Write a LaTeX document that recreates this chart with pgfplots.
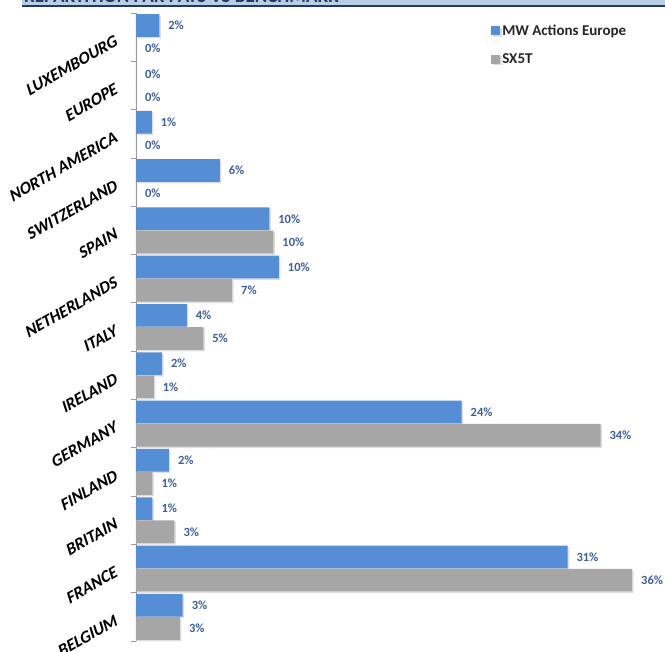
\documentclass[border=0pt]{standalone}
\usepackage{fontspec}
\setmainfont{Carlito}
\newfontfamily\catfont{Carlito}[BoldFeatures={FakeSlant=0.22}]
\usepackage{pgfplots}
\pgfplotsset{compat=1.18}
\usetikzlibrary{shadows}

\definecolor{mwblue}{RGB}{85,142,213}
\definecolor{sxgray}{RGB}{166,166,166}
\definecolor{lblblue}{RGB}{60,94,156}
\definecolor{bandblue}{RGB}{185,205,229}
\definecolor{navy}{RGB}{31,56,100}

% values in percent, categories 0 = BELGIUM ... 12 = LUXEMBOURG
\pgfplotstableread{
y   mw    sx
0   3.4   3.2
1   31.4  36.1
2   1.2   2.8
3   2.4   1.2
4   23.7  33.8
5   1.9   1.3
6   3.7   4.9
7   10.4  7.0
8   9.7   10.0
9   6.1   0
10  1.15  0
11  0     0
12  1.7   0
}\repartition

\begin{document}
\begin{tikzpicture}
\begin{axis}[
    scale only axis,
    width=514pt, height=628pt,
    xmin=0, xmax=37.4,
    ymin=-0.5, ymax=12.5,
    axis x line=none,
    axis y line*=left,
    y axis line style={draw=gray!80, line width=0.8pt},
    xbar,
    bar width=0.47,
    ytick={0,...,12},
    yticklabels={BELGIUM,FRANCE,BRITAIN,FINLAND,GERMANY,IRELAND,ITALY,NETHERLANDS,SPAIN,SWITZERLAND,NORTH AMERICA,EUROPE,LUXEMBOURG},
    major y tick style={draw=none},
    minor ytick={-0.5,0.5,...,12.5},
    minor tick length=5pt,
    tick align=outside,
    minor y tick style={draw=gray!80, line width=0.8pt},
    % shifts act along the rotated text
    yticklabel style={rotate=30, anchor=east, xshift=-12pt, yshift=5.5pt,
        font=\catfont\fontsize{17}{18}\selectfont\bfseries},
    nodes near coords={\pgfmathprintnumber[fixed,precision=0,assume math mode=true]{\pgfplotspointmeta}\%},
    nodes near coords style={anchor=west, xshift=5.5pt, text=lblblue,
        font=\fontsize{12.5}{13}\selectfont\bfseries},
    point meta=explicit,
    clip=false,
    legend style={at={(rel axis cs:0.685,0.988)}, anchor=north west,
        draw=none, fill=none, row sep=13pt,
        font=\fontsize{15}{16}\selectfont\bfseries, text=black!85,
        cells={anchor=west}},
    legend image code/.code={\fill[#1] (0pt,-4.5pt) rectangle (9pt,4.5pt);},
]
\addplot[fill=mwblue, draw=none, bar shift=0.24,
    drop shadow={opacity=0.25, shadow xshift=1.5pt, shadow yshift=-1.5pt}]
    table[x=mw, y=y, meta=mw] {\repartition};
\addplot[fill=sxgray, draw=none, bar shift=-0.24,
    drop shadow={opacity=0.25, shadow xshift=1.5pt, shadow yshift=-1.5pt}]
    table[x=sx, y=y, meta=sx] {\repartition};
\legend{MW Actions Europe, SX5T}
\coordinate (O) at (rel axis cs:0,0);
\end{axis}
% page frame: axis box starts 136pt from the left and 11pt from the bottom
\begin{scope}[shift={(O)}, x=1pt, y=1pt]
  \fill[bandblue] (-114,635) rectangle (529,650);
  \fill[navy] (-114,633.5) rectangle (529,635.5);
  \node[anchor=base west, inner sep=0pt, text=navy,
        font=\fontsize{19}{20}\selectfont\bfseries]
    at (-112,638) {REPARTITION PAR PAYS VS BENCHMARK};
  \pgfresetboundingbox
  \useasboundingbox (-136,-11) rectangle (529,641);
\end{scope}
\end{tikzpicture}
\end{document}
